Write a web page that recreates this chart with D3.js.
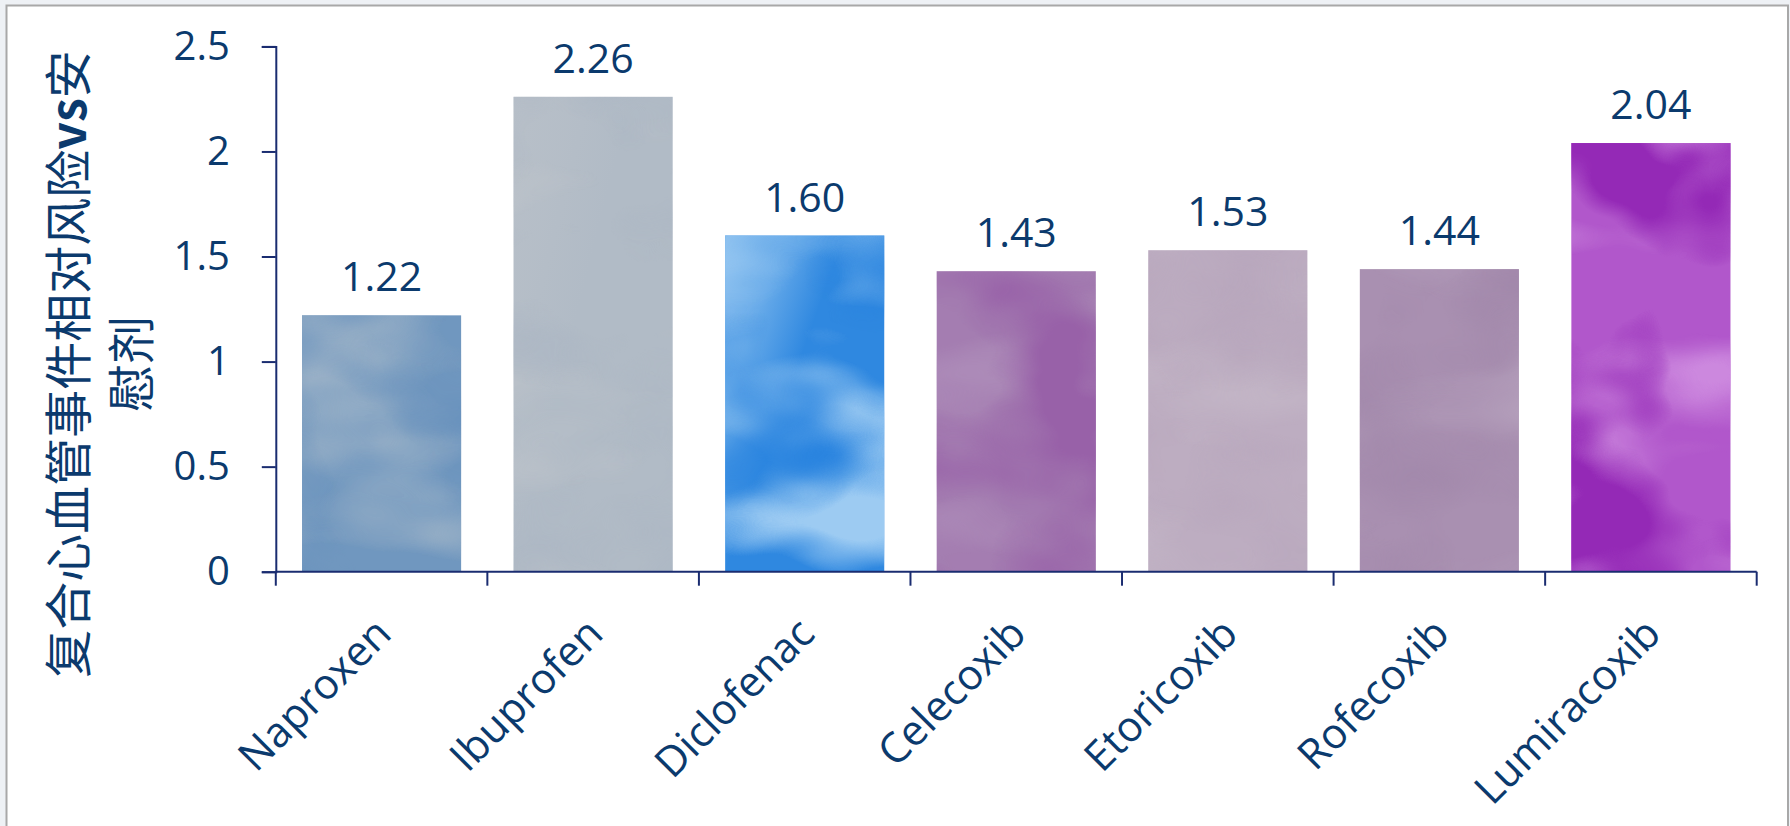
<!DOCTYPE html>
<html>
<head>
<meta charset="utf-8">
<script src="https://cdn.jsdelivr.net/npm/d3@7"></script>
<style>
  html, body { margin: 0; padding: 0; background: #eef1f5; }
  svg { display: block; }
</style>
</head>
<body>
<svg id="chart" width="1790" height="826"></svg>
<script>
// ---- data ----
const categories = ["Naproxen", "Ibuprofen", "Diclofenac", "Celecoxib", "Etoricoxib", "Rofecoxib", "Lumiracoxib"];
const values = [1.22, 2.26, 1.60, 1.43, 1.53, 1.44, 2.04];
const valueLabels = ["1.22", "2.26", "1.60", "1.43", "1.53", "1.44", "2.04"];
const yTicks = [0, 0.5, 1, 1.5, 2, 2.5];
const yTickLabels = ["0", "0.5", "1", "1.5", "2", "2.5"];
const yTitleLines = ["复合心血管事件相对风险vs安", "慰剂"];

// ---- styles (bar texture colours and strengths) ----
const baseColors  = ["#7097bf", "#b1bbc6", "#2f88e0", "#a47db1", "#bdadc1", "#a990b1", "#b157cb"];
const lightColors = ["#9cb2c7", "#c0c5cb", "#9dcbf2", "#b294bd", "#c6bac9", "#b6a2bd", "#cc88de"];
const darkColors  = ["#6690bd", "#aab5c3", "#2a84df", "#9861a8", "#b5a3ba", "#a086a9", "#9429b6"];
const lightAmt = [0.85, 0.6, 0.8, 0.5, 0.5, 0.5, 0.7];
const darkAmt  = [0.6, 0.5, 0.6, 0.7, 0.4, 0.5, 1.0];
const glowAmt  = [0.55, 0.45, 0.85, 0, 0, 0, 0];

const svg = d3.select("#chart");
const textColor = "#0b3a6d";
const axisColor = "#1a2c70";
const font = "'Open Sans', 'Noto Sans', sans-serif";

// frame
svg.append("rect").attr("x", 6.5).attr("y", 5.5).attr("width", 1781.5).attr("height", 830)
  .attr("fill", "#ffffff").attr("stroke", "#a8a8a8").attr("stroke-width", 2);

const x = d3.scaleBand().domain(categories).range([275.8, 1756.7]).paddingInner(0.248).paddingOuter(0.124);
const y = d3.scaleLinear().domain([0, 2.5]).range([571.7, 46.4]);

// texture filters and gradients
const defs = svg.append("defs");
function addFilter(id, color, seed, freq, a, b, amt) {
  const c = d3.color(color);
  const f = defs.append("filter").attr("id", id)
    .attr("x", 0).attr("y", 0).attr("width", 1).attr("height", 1)
    .attr("color-interpolation-filters", "sRGB");
  f.append("feTurbulence").attr("type", "fractalNoise").attr("baseFrequency", freq)
    .attr("numOctaves", 3).attr("seed", seed).attr("result", "n");
  f.append("feColorMatrix").attr("in", "n").attr("type", "matrix")
    .attr("values", `0 0 0 0 ${c.r/255} 0 0 0 0 ${c.g/255} 0 0 0 0 ${c.b/255} ${a * amt} 0 0 0 ${b * amt}`)
    .attr("result", "col");
  f.append("feComposite").attr("in", "col").attr("in2", "SourceGraphic").attr("operator", "in");
}
categories.forEach((c, i) => {
  addFilter("light" + i, lightColors[i], 3 + i * 7, "0.004 0.009", 4.5, -2.2, lightAmt[i]);
  addFilter("dark" + i, darkColors[i], 11 + i * 5, "0.006 0.008", 4.5, -2.1, darkAmt[i]);
  const g = defs.append("linearGradient").attr("id", "glow" + i)
    .attr("x1", 0).attr("y1", 0).attr("x2", 0.8).attr("y2", 0.6);
  g.append("stop").attr("offset", 0).attr("stop-color", lightColors[i]).attr("stop-opacity", glowAmt[i]);
  g.append("stop").attr("offset", 0.3).attr("stop-color", lightColors[i]).attr("stop-opacity", glowAmt[i] * 0.6);
  g.append("stop").attr("offset", 0.6).attr("stop-color", lightColors[i]).attr("stop-opacity", 0);
});

// bars
const bars = svg.append("g");
["base", "glow", "light", "dark"].forEach(layer => {
  bars.selectAll("rect." + layer).data(values).join("rect").attr("class", layer)
    .attr("x", (d, i) => x(categories[i])).attr("width", x.bandwidth())
    .attr("y", d => y(d)).attr("height", d => y(0) - y(d))
    .attr("fill", (d, i) => layer === "base" ? baseColors[i] : layer === "glow" ? `url(#glow${i})` : "#fff")
    .attr("filter", (d, i) => (layer === "light" || layer === "dark") ? `url(#${layer}${i})` : null);
});

// value labels
svg.append("g").selectAll("text").data(values).join("text")
  .attr("x", (d, i) => x(categories[i]) + x.bandwidth() / 2)
  .attr("y", d => y(d) - 24)
  .attr("text-anchor", "middle")
  .attr("font-family", font).attr("font-size", 41).attr("fill", textColor)
  .text((d, i) => valueLabels[i]);

// y axis
const yAxis = svg.append("g").attr("transform", "translate(275.8,0)")
  .call(d3.axisLeft(y).tickValues(yTicks).tickSize(14).tickPadding(32)
    .tickFormat((d, i) => yTickLabels[i]));
yAxis.selectAll("path, line").attr("stroke", axisColor).attr("stroke-width", 2);
yAxis.selectAll("text").attr("font-family", font).attr("font-size", 40).attr("fill", textColor);

// x axis (ticks between categories)
const step = x.step();
const x0 = x.range()[0];
const boundaries = d3.range(categories.length + 1).map(i => x0 + i * step);
const xAxis = svg.append("g");
xAxis.append("line").attr("x1", x0).attr("x2", x.range()[1]).attr("y1", y(0)).attr("y2", y(0))
  .attr("stroke", axisColor).attr("stroke-width", 2);
xAxis.selectAll("line.tick").data(boundaries).join("line").attr("class", "tick")
  .attr("x1", d => d).attr("x2", d => d).attr("y1", y(0)).attr("y2", y(0) + 14)
  .attr("stroke", axisColor).attr("stroke-width", 2);
xAxis.selectAll("text").data(categories).join("text")
  .attr("transform", d => `translate(${x(d) + x.bandwidth() / 2 + 12},636) rotate(-45)`)
  .attr("text-anchor", "end")
  .attr("font-family", font).attr("font-size", 42).attr("fill", textColor)
  .text(d => d);

// y title (two lines)
const titleX = [69, 132];
yTitleLines.forEach((line, i) => {
  const t = svg.append("text")
    .attr("transform", `translate(${titleX[i]},364) rotate(-90)`)
    .attr("text-anchor", "middle").attr("dy", "0.35em")
    .attr("font-family", "'Noto Sans CJK SC', sans-serif").attr("font-size", 48).attr("fill", textColor);
  const m = line.match(/^(.*?)(vs)(.*)$/);
  if (m) {
    t.append("tspan").text(m[1]);
    t.append("tspan").attr("font-weight", "bold").text(m[2]);
    t.append("tspan").text(m[3]);
  } else {
    t.text(line);
  }
});
</script>
</body>
</html>
